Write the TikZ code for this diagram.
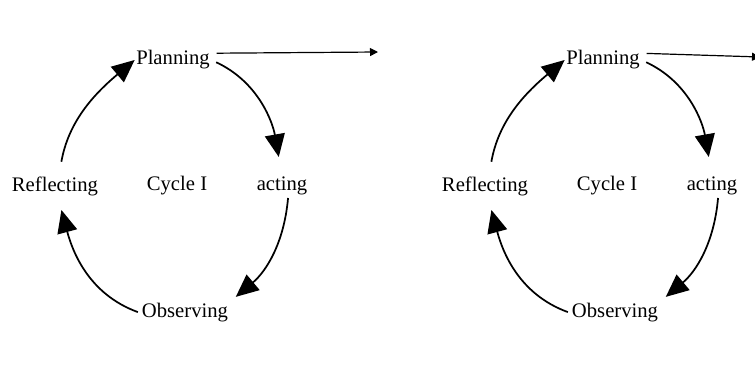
\documentclass[tikz,border=0pt]{standalone}
\usepackage{fontspec}
\setmainfont{Liberation Serif}
\usetikzlibrary{arrows.meta}
\begin{document}
\begin{tikzpicture}[x=.75pt, y=.75pt, font=\fontsize{15.5}{18}\selectfont,
  stage/.style={inner sep=1pt},
  turn/.style={-{Triangle[length=17pt,width=15pt]}, line width=1.3pt},
  next/.style={-{Triangle[length=6pt,width=6pt]}, line width=.9pt}]
\useasboundingbox (0,0) rectangle (755,365);
\clip (0,0) rectangle (755,365);
% first cycle
\node[stage](P1) at (173,305){Planning};
\node[stage](A1) at (282,179){acting};
\node[stage](O1) at (185,52){Observing};
\node[stage](R1) at (55,179){Reflecting};
\node[stage](C1) at (177,179){Cycle I};
\coordinate(E1) at (378,313);
\draw[turn, shorten <=4pt, shorten >=14pt](P1.east) to[out=-25, in=100] (A1.north);
\draw[turn, shorten <=1pt, shorten >=6pt](A1.-60) to[out=-95, in=40] (O1.north east);
\draw[turn, shorten <=2pt, shorten >=10pt](O1.west) to[out=160, in=-75] (R1.-75);
\draw[turn, shorten <=10pt](R1.70) to[out=80, in=220] (P1.west);
\draw[next, shorten <=4pt](P1.10)--(E1);
% second cycle
\begin{scope}[xshift=322.5pt]
\node[stage](P2) at (173,305){Planning};
\node[stage](A2) at (282,179){acting};
\node[stage](O2) at (185,52){Observing};
\node[stage](R2) at (55,179){Reflecting};
\node[stage](C2) at (177,179){Cycle I};
\coordinate(E2) at (330,308);
\draw[turn, shorten <=4pt, shorten >=14pt](P2.east) to[out=-25, in=100] (A2.north);
\draw[turn, shorten <=1pt, shorten >=6pt](A2.-60) to[out=-95, in=40] (O2.north east);
\draw[turn, shorten <=2pt, shorten >=10pt](O2.west) to[out=160, in=-75] (R2.-75);
\draw[turn, shorten <=10pt](R2.70) to[out=80, in=220] (P2.west);
\draw[next, shorten <=4pt](P2.10)--(E2);
\end{scope}
\end{tikzpicture}
\end{document}
